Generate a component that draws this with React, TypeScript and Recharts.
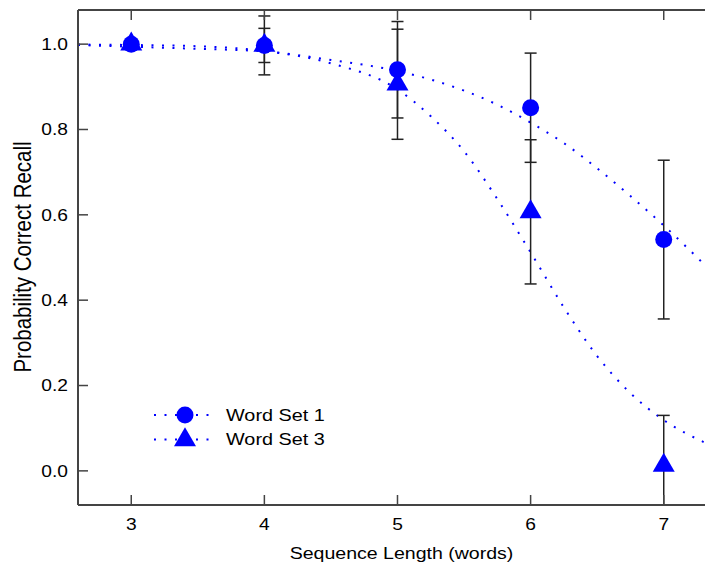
import React from "react"
import {
  ComposedChart,
  Line,
  Scatter,
  ErrorBar,
  XAxis,
  YAxis,
  Legend,
} from "recharts"

// measured points (sequence length in words)
const seqLength = [3, 4, 5, 6, 7]
const wordSet1 = [1.0, 0.997, 0.94, 0.851, 0.542]
const wordSet1Err = [0, 0.069, 0.113, 0.128, 0.186]
const wordSet3 = [1.0, 0.997, 0.906, 0.607, 0.013]
const wordSet3Err = [0, 0.04, 0.129, 0.169, 0.117]

// fitted curves
const fitX = [2.6, 3, 3.5, 4, 4.5, 5, 5.25, 5.5, 5.75, 6, 6.25, 6.5, 6.75, 7, 7.31]
const fit1 = [0.998, 0.994, 0.989, 0.983, 0.963, 0.937, 0.917, 0.891, 0.858, 0.816, 0.768, 0.709, 0.644, 0.575, 0.482]
const fit3 = [0.999, 0.998, 0.995, 0.984, 0.955, 0.894, 0.831, 0.749, 0.637, 0.512, 0.383, 0.269, 0.182, 0.119, 0.066]

const xTicks = [3, 4, 5, 6, 7]
const yTicks = [0, 0.2, 0.4, 0.6, 0.8, 1.0]

const FONT = "'Liberation Sans', Arial, Helvetica, sans-serif"
const BLUE = "#0000ff"
const AXIS = "#444"
const STRETCH = 1.2
const TICK = 10

// plot frame (Igor style: inside ticks, no right axis)
const W = 705
const H = 563
const PLOT = { left: 78, top: 10, right: 705, bottom: 505 }

const pts1 = seqLength.map((x, i) => ({ x, y: wordSet1[i], err: wordSet1Err[i] }))
const pts3 = seqLength.map((x, i) => ({ x, y: wordSet3[i], err: wordSet3Err[i] }))
const curve1 = fitX.map((x, i) => ({ x, y: fit1[i] }))
const curve3 = fitX.map((x, i) => ({ x, y: fit3[i] }))

const circle = (cx: number, cy: number) => <circle cx={cx} cy={cy} r={8.5} fill={BLUE} />

const triangle = (cx: number, cy: number) => {
  const s = 22
  const h = 19
  return (
    <polygon
      points={`${cx},${cy - (2 * h) / 3} ${cx - s / 2},${cy + h / 3} ${cx + s / 2},${cy + h / 3}`}
      fill={BLUE}
    />
  )
}

const YTick = (props: any) => {
  const { x, y, payload } = props
  return (
    <g>
      <line x1={PLOT.left} x2={PLOT.left + TICK} y1={y} y2={y} stroke={AXIS} strokeWidth={1.5} />
      <text
        transform={`translate(${x},${y}) scale(${STRETCH},1)`}
        textAnchor="end"
        dy="0.36em"
        fontSize={16}
        fontFamily={FONT}
        fill="#000"
      >
        {Number(payload.value).toFixed(1)}
      </text>
    </g>
  )
}

const XTick = (props: any) => {
  const { x, y, payload } = props
  return (
    <g>
      <line x1={x} x2={x} y1={PLOT.bottom} y2={PLOT.bottom - TICK} stroke={AXIS} strokeWidth={1.5} />
      <text
        transform={`translate(${x},${y}) scale(${STRETCH},1)`}
        textAnchor="middle"
        dy="0.36em"
        fontSize={16}
        fontFamily={FONT}
        fill="#000"
      >
        {payload.value}
      </text>
    </g>
  )
}

const TopTick = (props: any) => (
  <line x1={props.x} x2={props.x} y1={PLOT.top} y2={PLOT.top + TICK} stroke={AXIS} strokeWidth={1.5} />
)

const XTitle = (props: any) => {
  const vb = props.viewBox || { x: PLOT.left, width: PLOT.right - PLOT.left }
  const cx = vb.x + vb.width / 2 + 10
  return (
    <text
      transform={`translate(${cx},559) scale(1.15,1)`}
      textAnchor="middle"
      fontSize={17}
      fontFamily={FONT}
      fill="#000"
    >
      Sequence Length (words)
    </text>
  )
}

const YTitle = () => (
  <text
    transform={`translate(31,257) scale(${STRETCH},1) rotate(-90)`}
    textAnchor="middle"
    fontSize={20.5}
    fontFamily={FONT}
    fill="#000"
  >
    Probability Correct Recall
  </text>
)

const LegendBox = () => {
  const rows = [
    { label: "Word Set 1", marker: circle(35, 15), lineY: 15, textY: 21 },
    { label: "Word Set 3", marker: triangle(35, 40), lineY: 39.5, textY: 45 },
  ]
  return (
    <svg width={200} height={55}>
      {rows.map((r) => (
        <g key={r.label}>
          <line x1={4} x2={63} y1={r.lineY} y2={r.lineY} stroke={BLUE} strokeWidth={2} strokeDasharray="2 8.5" />
          {r.marker}
          <text
            transform={`translate(76,${r.textY}) scale(1.24,1)`}
            fontSize={16}
            fontFamily={FONT}
            fill="#000"
          >
            {r.label}
          </text>
        </g>
      ))}
    </svg>
  )
}

export default function App() {
  return (
    <div style={{ position: "absolute", left: 0, top: 0, width: W, height: H, background: "#fff" }}>
      <style>{`.recharts-errorBars { clip-path: url(#plotClip); }`}</style>
      <ComposedChart width={W} height={H} margin={{ top: 0, right: 0, bottom: 0, left: 0 }}>
        <defs>
          <clipPath id="plotClip">
            <rect x={PLOT.left} y={PLOT.top} width={PLOT.right - PLOT.left} height={PLOT.bottom - PLOT.top} />
          </clipPath>
        </defs>
        <XAxis
          dataKey="x"
          type="number"
          domain={[2.6, 7.31]}
          ticks={xTicks}
          allowDataOverflow
          height={H - PLOT.bottom}
          tickSize={0}
          tickMargin={19}
          tick={<XTick />}
          tickLine={false}
          axisLine={{ stroke: AXIS, strokeWidth: 2 }}
          label={<XTitle />}
        />
        <XAxis
          xAxisId="top"
          orientation="top"
          dataKey="x"
          type="number"
          domain={[2.6, 7.31]}
          ticks={xTicks}
          allowDataOverflow
          height={PLOT.top}
          tickSize={0}
          tick={<TopTick />}
          tickLine={false}
          axisLine={{ stroke: AXIS, strokeWidth: 2 }}
        />
        <YAxis
          type="number"
          domain={[-0.08, 1.08]}
          ticks={yTicks}
          allowDataOverflow
          width={PLOT.left}
          tickSize={0}
          tickMargin={10}
          tick={<YTick />}
          tickLine={false}
          axisLine={{ stroke: AXIS, strokeWidth: 2 }}
          label={<YTitle />}
        />
        <Line
          data={curve1}
          dataKey="y"
          type="monotone"
          stroke={BLUE}
          strokeWidth={2}
          strokeDasharray="2 8.5"
          dot={false}
          activeDot={false}
          isAnimationActive={false}
        />
        <Line
          data={curve3}
          dataKey="y"
          type="monotone"
          stroke={BLUE}
          strokeWidth={2}
          strokeDasharray="2 8.5"
          dot={false}
          activeDot={false}
          isAnimationActive={false}
        />
        <Scatter
          data={pts1}
          dataKey="y"
          isAnimationActive={false}
          shape={(p: any) => circle(p.cx, p.cy)}
        />
        <Scatter
          data={pts3}
          dataKey="y"
          isAnimationActive={false}
          shape={(p: any) => triangle(p.cx, p.cy)}
        />
        <Scatter data={pts1} dataKey="y" isAnimationActive={false} shape={() => <g />}>
          <ErrorBar dataKey="err" direction="y" width={6} stroke="#222" strokeWidth={1.5} isAnimationActive={false} />
        </Scatter>
        <Scatter data={pts3} dataKey="y" isAnimationActive={false} shape={() => <g />}>
          <ErrorBar dataKey="err" direction="y" width={6} stroke="#222" strokeWidth={1.5} isAnimationActive={false} />
        </Scatter>
        <Legend
          layout="horizontal"
          verticalAlign="middle"
          align="center"
          content={<LegendBox />}
          wrapperStyle={{ left: 150, top: 400, width: 200, height: 55 }}
        />
      </ComposedChart>
    </div>
  )
}
